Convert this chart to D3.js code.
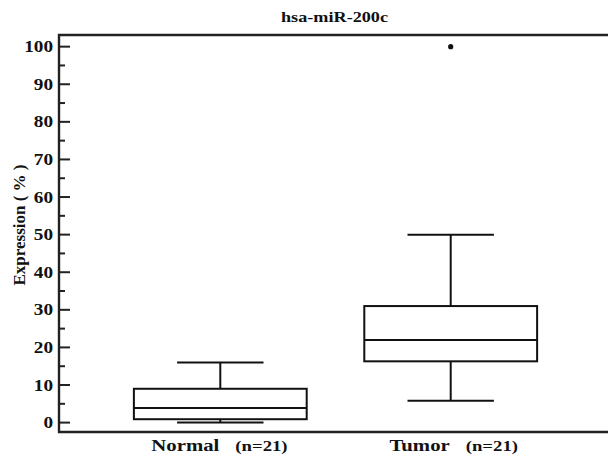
<!DOCTYPE html>
<html>
<head>
<meta charset="utf-8">
<script src="https://cdn.jsdelivr.net/npm/d3@7"></script>
<style>
  body { margin: 0; background: #fff; }
  text { font-family: "Liberation Serif", "Times New Roman", serif; font-weight: bold; fill: #111; }
</style>
</head>
<body>
<div id="chart"></div>
<script>
// box plot data
const groups = ["Normal", "Tumor"];
const counts = ["(n=21)", "(n=21)"];
const lowWhisker = [0, 5.8];
const q1 = [0.9, 16.3];
const median = [3.9, 22];
const q3 = [9, 31];
const highWhisker = [16, 50];
const outliers = [[], [100]];
const yTicks = [0, 10, 20, 30, 40, 50, 60, 70, 80, 90, 100];
const yMinor = [5, 15, 25, 35, 45, 55, 65, 75, 85, 95];

const data = groups.map((g, i) => ({
  group: g, n: counts[i], lo: lowWhisker[i], q1: q1[i], med: median[i],
  q3: q3[i], hi: highWhisker[i], out: outliers[i]
}));

const W = 608, H = 460;
const mLeft = 59, mRight = 612, mTop = 35, mBottom = 432;

const svg = d3.select("#chart").append("svg")
  .attr("width", W).attr("height", H);

const y = d3.scaleLinear().domain([-2.5, 103.1]).range([mBottom, mTop]);
const x = d3.scalePoint().domain(groups).range([mLeft, mRight]).padding(0.7);
const step = x.step();
const boxW = step * 0.75;
const capW = boxW * 0.5;

// the original lettering is a little wide, so text is stretched sideways
function wideText(parent, px, py, sx, size, anchor, str) {
  return parent.append("g")
    .attr("transform", `translate(${px},${py}) scale(${sx},1)`)
    .append("text").attr("text-anchor", anchor)
    .attr("font-size", size).text(str);
}

// frame: left axis, top and bottom lines
svg.append("path")
  .attr("d", `M${mRight},${mTop}H${mLeft}V${mBottom}H${mRight}`)
  .attr("fill", "none").attr("stroke", "#222").attr("stroke-width", 2.4);

// y ticks (pointing inward)
svg.selectAll(".major").data(yTicks).join("line")
  .attr("x1", mLeft).attr("x2", mLeft + 11)
  .attr("y1", d => y(d)).attr("y2", d => y(d))
  .attr("stroke", "#222").attr("stroke-width", 2);
svg.selectAll(".minor").data(yMinor).join("line")
  .attr("x1", mLeft).attr("x2", mLeft + 6)
  .attr("y1", d => y(d)).attr("y2", d => y(d))
  .attr("stroke", "#222").attr("stroke-width", 2);
yTicks.forEach(t => {
  wideText(svg, mLeft - 6, y(t) + 5.5, 1.2, 16, "end", t);
});

// y title
svg.append("text")
  .attr("transform", `translate(25,225) rotate(-90)`)
  .attr("text-anchor", "middle").attr("font-size", 17)
  .text("Expression ( % )");

// title
wideText(svg, 334.5, 22, 1.3, 14, "middle", "hsa-miR-200c");

const g = svg.selectAll(".box").data(data).join("g")
  .attr("transform", d => `translate(${x(d.group)},0)`);

function styled(sel) { return sel.attr("stroke", "#111").attr("stroke-width", 2); }

// whiskers
styled(g.append("line").attr("x1", 0).attr("x2", 0)
  .attr("y1", d => y(d.q3)).attr("y2", d => y(d.hi)));
styled(g.append("line").attr("x1", 0).attr("x2", 0)
  .attr("y1", d => y(d.q1)).attr("y2", d => y(d.lo)));
styled(g.append("line").attr("x1", -capW / 2).attr("x2", capW / 2)
  .attr("y1", d => y(d.hi)).attr("y2", d => y(d.hi)));
styled(g.append("line").attr("x1", -capW / 2).attr("x2", capW / 2)
  .attr("y1", d => y(d.lo)).attr("y2", d => y(d.lo)));

// box and median
styled(g.append("rect").attr("x", -boxW / 2).attr("width", boxW)
  .attr("y", d => y(d.q3)).attr("height", d => y(d.q1) - y(d.q3))
  .attr("fill", "#fff"));
styled(g.append("line").attr("x1", -boxW / 2).attr("x2", boxW / 2)
  .attr("y1", d => y(d.med)).attr("y2", d => y(d.med)));

// outliers
g.selectAll("circle").data(d => d.out).join("circle")
  .attr("cx", 0).attr("cy", d => y(d)).attr("r", 2.6).attr("fill", "#111");

// category labels
g.each(function (d) {
  const sel = d3.select(this);
  wideText(sel, -1, 451, 1.22, 17, "end", d.group);
  wideText(sel, 15, 451, 1.25, 15, "start", d.n);
});
</script>
</body>
</html>
